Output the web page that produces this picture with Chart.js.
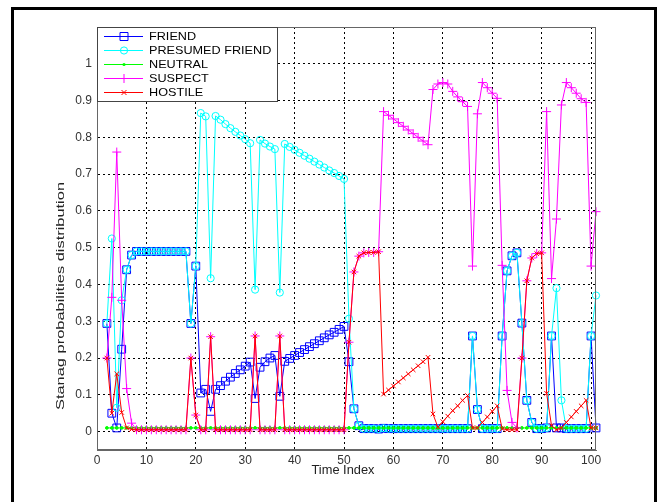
<!DOCTYPE html>
<html>
<head>
<meta charset="utf-8">
<script src="https://cdn.jsdelivr.net/npm/chart.js@4.4.0/dist/chart.umd.min.js"></script>
<style>
  html, body { margin: 0; padding: 0; background: #fff; }
  #wrap { width: 658px; height: 502px; }
</style>
</head>
<body>
<div id="wrap"><canvas id="grafico" width="658" height="502"></canvas></div>
<script>
// first time index of the samples (they run up to 101)
const inicio = 2;

const xTicks = [0, 10, 20, 30, 40, 50, 60, 70, 80, 90, 100];
const yTicks = [0, 0.1, 0.2, 0.3, 0.4, 0.5, 0.6, 0.7, 0.8, 0.9, 1];

const friend = [
  0.294, 0.05, 0.01, 0.224, 0.44, 0.48,
  0.49, 0.49, 0.49, 0.49, 0.49, 0.49, 0.49, 0.49, 0.49, 0.49, 0.49,
  0.294, 0.45, 0.105, 0.115, 0.055,
  0.115, 0.125, 0.137, 0.148, 0.158, 0.168, 0.178, 0.189,
  0.09, 0.175, 0.19, 0.2, 0.207, 0.096,
  0.191, 0.199, 0.207, 0.215, 0.223, 0.231, 0.239, 0.247, 0.255, 0.263, 0.27, 0.278, 0.286,
  0.19, 0.062, 0.016, 0.008, 0.008, 0.008, 0.007, 0.009,
  0.008, 0.008, 0.008, 0.008, 0.008, 0.008, 0.008, 0.008, 0.008, 0.008, 0.008, 0.008, 0.008, 0.008, 0.008, 0.008, 0.008,
  0.26, 0.06, 0.008, 0.008, 0.008, 0.008,
  0.26, 0.437, 0.478, 0.486, 0.295, 0.085, 0.025, 0.008, 0.008, 0.01,
  0.26, 0.01, 0.01, 0.008, 0.008, 0.008, 0.008, 0.008,
  0.26, 0.01
];

const presumedFriend = [
  0.294, 0.525, 0.065, 0.357, 0.44, 0.48,
  0.49, 0.49, 0.49, 0.49, 0.49, 0.49, 0.49, 0.49, 0.49, 0.49, 0.49,
  0.294, 0.45, 0.866, 0.857, 0.417,
  0.858, 0.848, 0.836, 0.825, 0.815, 0.805, 0.795, 0.784,
  0.386, 0.793, 0.783, 0.775, 0.768, 0.378,
  0.782, 0.774, 0.766, 0.758, 0.75, 0.742, 0.734, 0.726, 0.718, 0.71, 0.703, 0.695, 0.687,
  0.307, 0.062, 0.016, 0.008, 0.008, 0.008, 0.007, 0.009,
  0.008, 0.008, 0.008, 0.008, 0.008, 0.008, 0.008, 0.008, 0.008, 0.008, 0.008, 0.008, 0.008, 0.008, 0.008, 0.008, 0.008,
  0.26, 0.06, 0.008, 0.008, 0.008, 0.008,
  0.26, 0.437, 0.478, 0.486, 0.295, 0.085, 0.025, 0.008, 0.008, 0.01,
  0.26, 0.39, 0.085, 0.008, 0.008, 0.008, 0.008, 0.008,
  0.26, 0.37
];

const neutral = [
  0.01, 0.01, 0.01, 0.01, 0.01, 0.01, 0.01, 0.01, 0.01, 0.01,
  0.01, 0.01, 0.01, 0.01, 0.01, 0.01, 0.01, 0.01, 0.01, 0.01,
  0.01, 0.01, 0.01, 0.01, 0.01, 0.01, 0.01, 0.01, 0.01, 0.01,
  0.01, 0.01, 0.01, 0.01, 0.01, 0.01, 0.01, 0.01, 0.01, 0.01,
  0.01, 0.01, 0.01, 0.01, 0.01, 0.01, 0.01, 0.01, 0.01, 0.01,
  0.01, 0.01, 0.01, 0.01, 0.01, 0.01, 0.01, 0.01, 0.01, 0.01,
  0.01, 0.01, 0.01, 0.01, 0.01, 0.01, 0.01, 0.01, 0.01, 0.01,
  0.01, 0.01, 0.01, 0.01, 0.01, 0.01, 0.01, 0.01, 0.01, 0.01,
  0.01, 0.01, 0.01, 0.01, 0.01, 0.01, 0.01, 0.01, 0.01, 0.01,
  0.01, 0.01, 0.01, 0.01, 0.01, 0.01, 0.01, 0.01, 0.01, 0.01
];

const suspect = [
  0.2, 0.365, 0.76, 0.357, 0.117, 0.023,
  0.005, 0.005, 0.005, 0.005, 0.005, 0.005, 0.005, 0.005, 0.005, 0.005, 0.005,
  0.2, 0.045, 0.005, 0.005, 0.258,
  0.005, 0.005, 0.005, 0.005, 0.005, 0.005, 0.005, 0.005,
  0.26, 0.005, 0.005, 0.005, 0.005, 0.26,
  0.005, 0.005, 0.005, 0.005, 0.005, 0.005, 0.005, 0.005, 0.005, 0.005, 0.005, 0.005, 0.005,
  0.243, 0.434, 0.477, 0.486, 0.487, 0.487, 0.489, 0.87,
  0.86, 0.85, 0.84, 0.83, 0.82, 0.81, 0.8, 0.79, 0.78, 0.93, 0.945, 0.949, 0.945, 0.925, 0.91, 0.897, 0.884,
  0.45, 0.864, 0.949, 0.935, 0.92, 0.906,
  0.452, 0.112, 0.025, 0.01, 0.2, 0.41, 0.472, 0.484, 0.486, 0.87,
  0.416, 0.578, 0.888, 0.949, 0.935, 0.92, 0.905, 0.895,
  0.45, 0.598
];

const hostile = [
  0.2, 0.05, 0.157, 0.052, 0.01, 0.006,
  0.005, 0.005, 0.005, 0.005, 0.005, 0.005, 0.005, 0.005, 0.005, 0.005, 0.005,
  0.2, 0.045, 0.005, 0.005, 0.258,
  0.005, 0.005, 0.005, 0.005, 0.005, 0.005, 0.005, 0.005,
  0.26, 0.005, 0.005, 0.005, 0.005, 0.26,
  0.005, 0.005, 0.005, 0.005, 0.005, 0.005, 0.005, 0.005, 0.005, 0.005, 0.005, 0.005, 0.005,
  0.243, 0.434, 0.477, 0.486, 0.487, 0.487, 0.489, 0.102,
  0.113, 0.124, 0.135, 0.146, 0.157, 0.168, 0.179, 0.19, 0.202, 0.048, 0.012, 0.027, 0.042, 0.057, 0.07, 0.085, 0.098,
  0.01, 0.01, 0.025, 0.04, 0.055, 0.07,
  0.008, 0.005, 0.005, 0.005, 0.2, 0.41, 0.472, 0.484, 0.486, 0.104,
  0.016, 0.005, 0.01, 0.025, 0.04, 0.055, 0.07, 0.085,
  0.01, 0.01
];

const fonte = "'Liberation Sans', Arial, sans-serif";

function serie(label, valores, cor, estilo, raio, ordem, preenchido) {
  return {
    label: label,
    data: valores.map((v, i) => ({ x: inicio + i, y: v })),
    borderColor: cor,
    borderWidth: 1,
    backgroundColor: cor,
    fill: false,
    tension: 0,
    pointStyle: estilo,
    pointRadius: raio,
    pointBorderColor: cor,
    pointBorderWidth: 1,
    pointBackgroundColor: preenchido ? cor : 'rgba(0,0,0,0)',
    order: ordem,
    clip: false
  };
}

const series = [
  serie('FRIEND', friend, '#0000ff', 'rect', 5.5, 5, false),
  serie('PRESUMED FRIEND', presumedFriend, '#00ffff', 'circle', 3.6, 4, false),
  serie('NEUTRAL', neutral, '#00ff00', 'circle', 1.4, 3, true),
  serie('SUSPECT', suspect, '#ff00ff', 'cross', 4.5, 2, false),
  serie('HOSTILE', hostile, '#ff0000', 'crossRot', 3.2, 1, false)
];

// draw text squeezed/stretched to a given length
function textoAjustado(ctx, txt, x, y, largura) {
  const w = ctx.measureText(txt).width;
  ctx.save();
  ctx.translate(x, y);
  ctx.scale(largura / w, 1);
  ctx.fillText(txt, 0, 0);
  ctx.restore();
}

function marcador(ctx, estilo, cx, cy, cor) {
  ctx.save();
  ctx.strokeStyle = cor;
  ctx.fillStyle = cor;
  ctx.lineWidth = 1;
  ctx.beginPath();
  if (estilo === 'rect') {
    ctx.rect(cx - 4, cy - 4, 8, 8);
    ctx.stroke();
  } else if (estilo === 'circle') {
    ctx.arc(cx, cy, 3.6, 0, Math.PI * 2);
    ctx.stroke();
  } else if (estilo === 'dot') {
    ctx.arc(cx, cy, 1.6, 0, Math.PI * 2);
    ctx.fill();
  } else if (estilo === 'cross') {
    ctx.moveTo(cx - 4.5, cy); ctx.lineTo(cx + 4.5, cy);
    ctx.moveTo(cx, cy - 4.5); ctx.lineTo(cx, cy + 4.5);
    ctx.stroke();
  } else {
    ctx.moveTo(cx - 2.5, cy - 2.5); ctx.lineTo(cx + 2.5, cy + 2.5);
    ctx.moveTo(cx - 2.5, cy + 2.5); ctx.lineTo(cx + 2.5, cy - 2.5);
    ctx.stroke();
  }
  ctx.restore();
}

const moldura = {
  id: 'moldura',
  beforeDraw(chart) {
    const ctx = chart.ctx;
    ctx.save();
    ctx.fillStyle = '#fff';
    ctx.fillRect(0, 0, chart.width, chart.height);
    ctx.fillStyle = '#000';
    ctx.fillRect(11, 7, 646, 3);
    ctx.fillRect(11, 7, 3, 495);
    ctx.fillRect(654, 7, 3, 495);
    ctx.restore();
  },
  afterDatasetsDraw(chart) {
    const ctx = chart.ctx;
    const a = chart.chartArea;
    ctx.save();
    // axes box
    ctx.strokeStyle = '#666';
    ctx.lineWidth = 1;
    ctx.strokeRect(a.left + 0.5, a.top + 0.5, a.right - a.left - 1, a.bottom - a.top - 1);

    // legend
    const lx = a.left, ly = a.top;
    ctx.fillStyle = '#fff';
    ctx.fillRect(lx, ly, 180, 74);
    ctx.strokeStyle = '#444';
    ctx.strokeRect(lx + 0.5, ly + 0.5, 180, 74);
    const estilos = ['rect', 'circle', 'dot', 'cross', 'crossRot'];
    ctx.font = '11px ' + fonte;
    ctx.textBaseline = 'middle';
    series.forEach((ds, i) => {
      const y = ly + 9 + i * 14;
      ctx.strokeStyle = ds.borderColor;
      ctx.beginPath();
      ctx.moveTo(lx + 7, y + 0.5);
      ctx.lineTo(lx + 46, y + 0.5);
      ctx.stroke();
      marcador(ctx, estilos[i], lx + 27, y + 0.5, ds.borderColor);
      ctx.fillStyle = '#000';
      textoAjustado(ctx, ds.label, lx + 52, y + 1, ctx.measureText(ds.label).width * 1.15);
    });

    // axis titles
    ctx.fillStyle = '#222';
    ctx.font = '10px ' + fonte;
    ctx.textAlign = 'left';
    ctx.save();
    ctx.translate(61, 296);
    ctx.rotate(-Math.PI / 2);
    const t = 'Stanag probabilities distribution';
    const w = ctx.measureText(t).width;
    textoAjustado(ctx, t, -114, 0, 228);
    ctx.restore();
    ctx.font = '12px ' + fonte;
    const tx = 'Time Index';
    textoAjustado(ctx, tx, 343 - 31.5, 471, 63);
    ctx.restore();
  }
};

new Chart(document.getElementById('grafico').getContext('2d'), {
  type: 'line',
  data: { datasets: series },
  options: {
    responsive: false,
    animation: false,
    devicePixelRatio: 1,
    layout: { padding: { left: 0, top: 27, right: 62, bottom: 0 } },
    plugins: { legend: { display: false }, tooltip: { enabled: false } },
    scales: {
      x: {
        type: 'linear',
        min: 0,
        max: 101,
        afterBuildTicks: eixo => { eixo.ticks = xTicks.map(v => ({ value: v })); },
        afterFit: eixo => { eixo.height = 52; },
        grid: { color: '#000', lineWidth: 1, drawTicks: false },
        border: { display: true, color: '#666', width: 1, dash: [2, 3] },
        ticks: {
          padding: 3, color: '#333', maxRotation: 0, autoSkip: false,
          font: { family: fonte, size: 12 },
          callback: v => String(v)
        }
      },
      y: {
        type: 'linear',
        min: -0.05,
        max: 1.1,
        afterBuildTicks: eixo => { eixo.ticks = yTicks.map(v => ({ value: v })); },
        afterFit: eixo => { eixo.width = 97; },
        grid: { color: '#000', lineWidth: 1, drawTicks: false },
        border: { display: true, color: '#666', width: 1, dash: [2, 3] },
        ticks: {
          padding: 5, color: '#333',
          font: { family: fonte, size: 12 },
          callback: v => String(Math.round(v * 10) / 10)
        }
      }
    }
  },
  plugins: [moldura]
});
</script>
</body>
</html>
